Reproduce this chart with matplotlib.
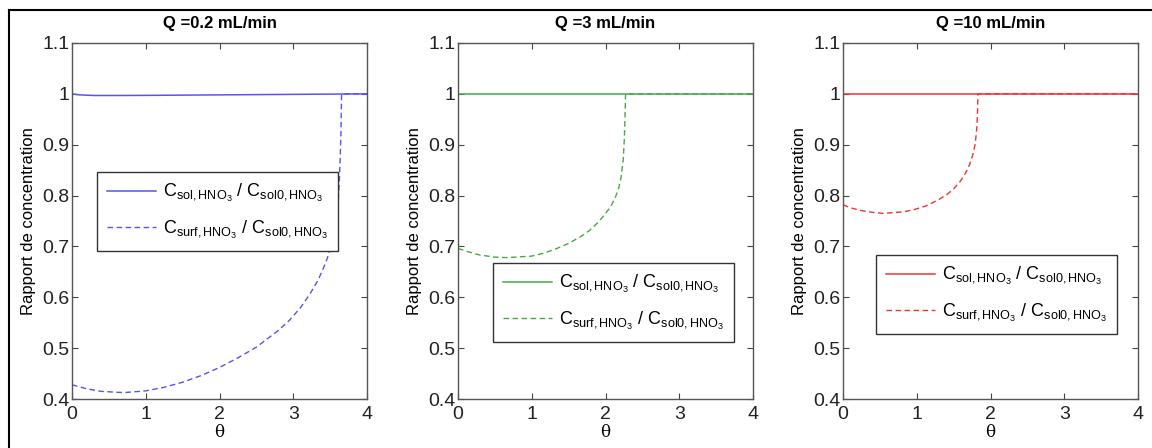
import matplotlib.pyplot as plt
from matplotlib.lines import Line2D

plt.rcParams['font.family'] = ['Liberation Sans', 'DejaVu Sans']
plt.rcParams['mathtext.fontset'] = 'custom'
plt.rcParams['mathtext.rm'] = 'Liberation Sans'
plt.rcParams['mathtext.it'] = 'Liberation Sans'

titles = ['Q =0.2 mL/min', 'Q =3 mL/min', 'Q =10 mL/min']
colors = ['#5555ee', '#44aa44', '#ee3333']

# solution ratio (solid)
sol_x = [
    [0, 0.1, 0.3, 0.6, 1.0, 1.5, 2.0, 2.5, 3.0, 3.5, 4.0],
    [0, 1, 2, 3, 4],
    [0, 1, 2, 3, 4],
]
sol_y = [
    [1.0, 0.998, 0.9968, 0.9968, 0.997, 0.9975, 0.998, 0.9985, 0.999, 0.9995, 1.0],
    [1.0, 1.0, 1.0, 1.0, 1.0],
    [1.0, 1.0, 1.0, 1.0, 1.0],
]

# surface ratio (dashed)
surf_x = [
    [0, 0.2, 0.4, 0.7, 1.0, 1.25, 1.5, 1.75, 2.0, 2.25, 2.5, 2.8, 2.95, 3.1, 3.22, 3.33, 3.4, 3.46,
     3.52, 3.56, 3.59, 3.61, 3.625, 3.638, 3.648, 3.655, 4.0],
    [0, 0.15, 0.3, 0.5, 0.66, 1.0, 1.17, 1.34, 1.5, 1.66, 1.78, 1.89, 1.98, 2.07, 2.13, 2.18, 2.21,
     2.24, 2.255, 2.265, 2.272, 4.0],
    [0, 0.1, 0.23, 0.4, 0.54, 0.82, 0.98, 1.13, 1.27, 1.4, 1.5, 1.59, 1.66, 1.72, 1.76, 1.79, 1.81,
     1.822, 1.83, 4.0],
]
surf_y = [
    [0.428, 0.42, 0.415, 0.4125, 0.416, 0.423, 0.433, 0.446, 0.462, 0.481, 0.502, 0.535, 0.555,
     0.58, 0.605, 0.632, 0.654, 0.676, 0.705, 0.732, 0.76, 0.79, 0.83, 0.88, 0.93, 1.0, 1.0],
    [0.696, 0.689, 0.683, 0.679, 0.678, 0.681, 0.687, 0.696, 0.706, 0.719, 0.731, 0.746, 0.761,
     0.778, 0.795, 0.815, 0.835, 0.87, 0.91, 0.955, 1.0, 1.0],
    [0.782, 0.776, 0.771, 0.767, 0.765, 0.768, 0.773, 0.78, 0.79, 0.801, 0.813, 0.828, 0.844,
     0.862, 0.88, 0.9, 0.925, 0.955, 1.0, 1.0],
]

# upper-left corner of each legend, axes fraction
legend_corner = [(0.085, 0.637), (0.119, 0.382), (0.112, 0.404)]
axes_left = [72, 458, 843]

lab_sol = r'$\mathregular{C_{sol,HNO_3}\ /\ C_{sol0,HNO_3}}$'
lab_surf = r'$\mathregular{C_{surf,HNO_3}\ /\ C_{sol0,HNO_3}}$'

W, H = 1152, 448
fig = plt.figure(figsize=(11.52, 4.48), dpi=100)

for i in range(3):
    ax = fig.add_axes([axes_left[i] / W, (H - 399) / H, 295 / W, 356 / H])
    h2, = ax.plot(surf_x[i], surf_y[i], '--', color=colors[i], lw=1.0, dashes=(4, 2.5))
    h1, = ax.plot(sol_x[i], sol_y[i], '-', color=colors[i], lw=1.1)
    ax.set_xlim(0, 4)
    ax.set_ylim(0.4, 1.1)
    ax.set_xticks([0, 1, 2, 3, 4])
    ax.set_yticks([0.4, 0.5, 0.6, 0.7, 0.8, 0.9, 1.0, 1.1])
    ax.set_yticklabels(['0.4', '0.5', '0.6', '0.7', '0.8', '0.9', '1', '1.1'])
    ax.tick_params(direction='in', top=True, right=True, labelsize=14, length=4,
                   color='#444444', labelcolor='#222222')
    ax.tick_params(axis='x', pad=5)
    ax.tick_params(axis='y', pad=2)
    for s in ax.spines.values():
        s.set_color('#555555')
        s.set_linewidth(1.0)
    ax.set_title(titles[i], fontsize=12, fontweight='bold', pad=11)
    ax.set_ylabel('Rapport de concentration', fontsize=12, labelpad=4)
    ax.set_xlabel('θ', fontsize=12, family=['DejaVu Serif'], labelpad=1)
    leg = ax.legend([h1, h2], [lab_sol, lab_surf], loc='upper left', bbox_to_anchor=legend_corner[i],
                    fontsize=13, fancybox=False, edgecolor='#333333', framealpha=1,
                    handlelength=2.7, handletextpad=0.4, borderaxespad=0,
                    labelspacing=0.8, borderpad=0.55)
    leg.get_frame().set_linewidth(1.0)

# outer frame (left and top edges only)
fig.add_artist(Line2D([9 / W, 9 / W], [0, (H - 10) / H], color='black', lw=1.5))
fig.add_artist(Line2D([9 / W, 1], [(H - 10) / H, (H - 10) / H], color='black', lw=1.5))

fig.savefig('out.png', dpi=100)
